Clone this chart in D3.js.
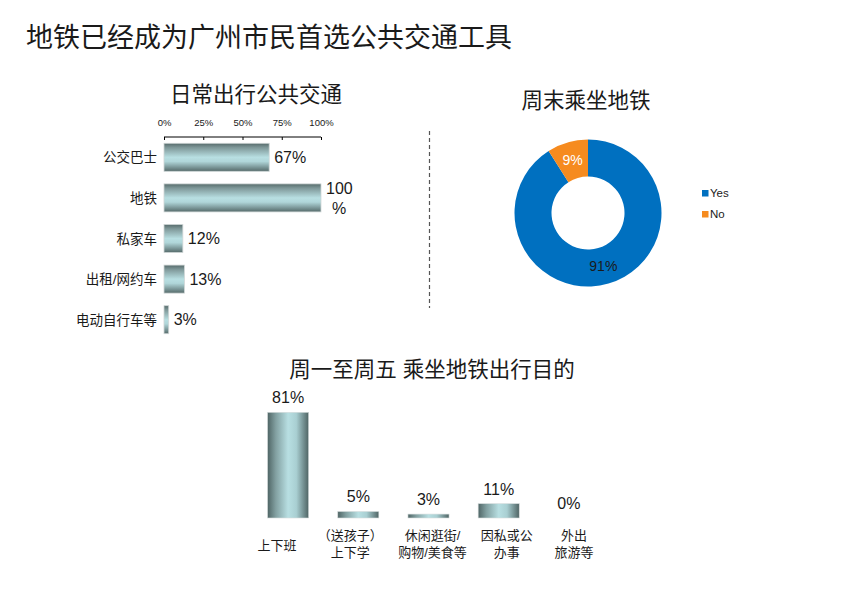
<!DOCTYPE html>
<html><head><meta charset="utf-8">
<script src="https://cdn.jsdelivr.net/npm/d3@7/dist/d3.min.js"></script>
<style>
body{margin:0;background:#fff;}
svg{display:block;font-family:"Liberation Sans",Arial,"Noto Sans CJK SC",sans-serif;}
</style></head>
<body><svg id="c" width="843" height="605"></svg>
<script>
// ---------- data ----------
const mainTitle = "地铁已经成为广州市民首选公共交通工具";
const dailyTitle = "日常出行公共交通";
const dailyCats = ["公交巴士","地铁","私家车","出租/网约车","电动自行车等"];
const dailyVals = [67,100,12,13,3];
const dailyTicks = [0,25,50,75,100];

const weekendTitle = "周末乘坐地铁";
const weekendCats = ["Yes","No"];
const weekendVals = [91,9];

const purposeTitle = "周一至周五 乘坐地铁出行目的";
const purposeCats = [["上下班"],["（送孩子）","上下学"],["休闲逛街/","购物/美食等"],["因私或公","办事"],["外出","旅游等"]];
const purposeVals = [81,5,3,11,0];

// ---------- drawing ----------
const svg = d3.select("#c");
const txt = "#1a1a1a";
const defs = svg.append("defs");
const gh = defs.append("linearGradient").attr("id","gh").attr("x1",0).attr("y1",0).attr("x2",0).attr("y2",1);
const gv = defs.append("linearGradient").attr("id","gv").attr("x1",0).attr("y1",0).attr("x2",1).attr("y2",0);
[[0,"#566b6b"],[0.15,"#7e9798"],[0.5,"#b8dfe2"],[0.65,"#b0d6d9"],[1,"#556a6a"]].forEach(([o,c])=>{
  gh.append("stop").attr("offset",o).attr("stop-color",c);
});
[[0,"#4f6565"],[0.2,"#82a0a1"],[0.5,"#b8dfe2"],[0.7,"#a9cfd2"],[1,"#4f6464"]].forEach(([o,c])=>{
  gv.append("stop").attr("offset",o).attr("stop-color",c);
});

svg.append("text").attr("x",26).attr("y",47).attr("font-size",27).attr("fill",txt).text(mainTitle);

// --- horizontal bar chart ---
const x = d3.scaleLinear().domain([0,100]).range([164,321]);
const y = d3.scaleBand().domain(dailyCats).range([137,340]).paddingInner(0.31).paddingOuter(0.155);
svg.append("text").attr("x",256).attr("y",102).attr("text-anchor","middle").attr("font-size",21.5).attr("fill",txt).text(dailyTitle);
const ax = svg.append("g").attr("transform","translate(0,137)")
  .call(d3.axisTop(x).tickValues(dailyTicks).tickSize(-3).tickPadding(10).tickFormat(d=>d+"%"));
ax.select(".domain").attr("stroke","#000").attr("d","M164,0H321");
ax.selectAll(".tick line").attr("stroke","#000");
ax.selectAll(".tick text").attr("font-size",9.5).attr("fill",txt).attr("font-family","Liberation Sans,Arial").attr("dy",-1);
svg.append("g").selectAll("rect").data(dailyVals).join("rect")
  .attr("x",x(0)).attr("y",(d,i)=>y(dailyCats[i]))
  .attr("width",d=>x(d)-x(0)).attr("height",y.bandwidth())
  .attr("fill","url(#gh)").attr("stroke","#cfd6d6").attr("stroke-width",0.8);
svg.append("g").selectAll("text").data(dailyCats).join("text")
  .attr("x",157).attr("y",d=>y(d)+y.bandwidth()/2+5).attr("text-anchor","end")
  .attr("font-size",13.5).attr("fill",txt).text(d=>d);
svg.append("g").selectAll("text").data(dailyVals).join("text")
  .attr("font-size",16).attr("fill",txt)
  .each(function(d,i){
    const t = d3.select(this);
    const cy = y(dailyCats[i])+y.bandwidth()/2;
    const xx = x(d)+5;
    if(d>=100){
      t.append("tspan").attr("x",xx).attr("y",cy-4).text(d);
      t.append("tspan").attr("x",xx+6).attr("y",cy+16).text("%");
    } else {
      t.attr("x",xx).attr("y",cy+5.5).text(d+"%");
    }
  });

// dashed separator
svg.append("line").attr("x1",429.5).attr("x2",429.5).attr("y1",131).attr("y2",308)
  .attr("stroke","#555").attr("stroke-width",1.2).attr("stroke-dasharray","4,3");

// --- donut ---
const cx=588, cy=213;
svg.append("text").attr("x",586).attr("y",108).attr("text-anchor","middle").attr("font-size",21.5).attr("fill",txt).text(weekendTitle);
const color = d3.scaleOrdinal().domain(weekendCats).range(["#0070c0","#f68b1f"]);
const pie = d3.pie().sort(null).value(d=>d);
const arc = d3.arc().innerRadius(36.5).outerRadius(73.5);
const pg = svg.append("g").attr("transform",`translate(${cx},${cy})`);
const arcs = pie(weekendVals);
pg.selectAll("path").data(arcs).join("path").attr("d",arc).attr("fill",(d,i)=>color(weekendCats[i]));
pg.selectAll("text").data(arcs).join("text")
  .attr("transform",d=>`translate(${arc.centroid(d)})`).attr("dy",5).attr("text-anchor","middle")
  .attr("font-size",14).attr("fill",(d,i)=>i===0?txt:"#fff").text(d=>d.data+"%");
const lg = svg.append("g").selectAll("g").data(weekendCats).join("g")
  .attr("transform",(d,i)=>`translate(702,${190+i*21})`);
lg.append("rect").attr("width",6.5).attr("height",6.5).attr("fill",d=>color(d));
lg.append("text").attr("x",8).attr("y",7).attr("font-size",11.5).attr("fill",txt).text(d=>d);

// --- vertical bar chart ---
svg.append("text").attr("x",432).attr("y",377).attr("text-anchor","middle").attr("font-size",21.5).attr("fill",txt).text(purposeTitle);
const bx = d3.scaleBand().domain(d3.range(purposeCats.length)).range([253,604]).paddingInner(0.415).paddingOuter(0.2075);
const by = d3.scaleLinear().domain([0,100]).range([518,387.5]);
svg.append("g").selectAll("rect").data(purposeVals).join("rect")
  .attr("x",(d,i)=>bx(i)).attr("y",d=>by(d)).attr("width",bx.bandwidth()).attr("height",d=>by(0)-by(d))
  .attr("fill","url(#gv)").attr("stroke","#d6dcdc").attr("stroke-width",0.6);
svg.append("g").selectAll("text").data(purposeVals).join("text")
  .attr("x",(d,i)=>bx(i)+bx.bandwidth()/2).attr("y",d=>by(d)-9).attr("text-anchor","middle")
  .attr("font-size",16).attr("fill",txt).text(d=>d+"%");
const labelDx = [-11,-8,4,8,5];
svg.append("g").selectAll("text").data(purposeCats).join("text")
  .attr("font-size",13).attr("fill",txt).attr("text-anchor","middle")
  .each(function(lines,i){
    const t = d3.select(this);
    const cxx = bx(i)+bx.bandwidth()/2+labelDx[i];
    if(lines.length===1){
      t.append("tspan").attr("x",cxx).attr("y",550).text(lines[0]);
    } else {
      lines.forEach((l,j)=>t.append("tspan").attr("x",cxx).attr("y",540+j*17).text(l));
    }
  });
</script></body></html>
